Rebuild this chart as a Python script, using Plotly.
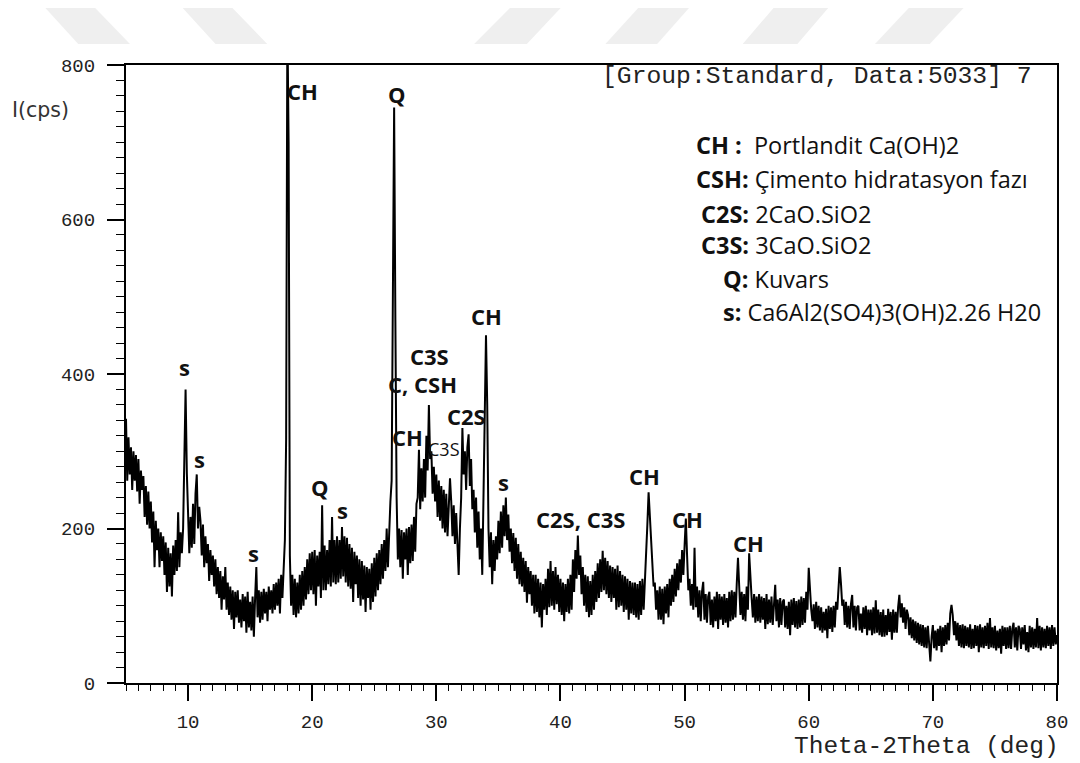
import plotly.graph_objects as go

# ---- XRD pattern: intensity (cps) sampled every 0.1 deg from 5 to 80 deg 2theta ----
two_theta_start = 5.0
two_theta_step = 0.1
intensity_rows = [
    [342, 262, 318, 270, 305, 250, 300, 262, 295, 248],   # 5
    [290, 232, 275, 250, 268, 215, 255, 205, 248, 200],   # 6
    [235, 182, 222, 150, 210, 172, 200, 150, 195, 158],   # 7
    [190, 140, 182, 118, 175, 125, 168, 112, 178, 140],   # 8
    [185, 145, 221, 150, 195, 168, 200, 300, 380, 272],   # 9
    [225, 168, 215, 175, 232, 180, 245, 270, 200, 228],   # 10
    [210, 165, 205, 150, 190, 155, 180, 132, 172, 140],   # 11
    [165, 125, 160, 115, 150, 110, 145, 95, 138, 108],    # 12
    [150, 95, 130, 88, 125, 82, 120, 70, 118, 85],        # 13
    [120, 78, 108, 72, 115, 80, 112, 65, 118, 72],        # 14
    [105, 68, 112, 60, 110, 150, 85, 120, 78, 118],       # 15
    [82, 122, 90, 118, 80, 125, 95, 120, 90, 128],        # 16
    [95, 130, 100, 135, 90, 140, 110, 150, 185, 315],     # 17
    [860, 700, 165, 100, 140, 88, 135, 85, 130, 90],      # 18
    [140, 95, 145, 100, 150, 108, 160, 115, 168, 120],    # 19
    [170, 115, 172, 100, 165, 125, 170, 110, 230, 120],   # 20
    [178, 120, 172, 128, 185, 125, 215, 130, 185, 128],   # 21
    [190, 130, 185, 135, 202, 138, 190, 130, 188, 125],   # 22
    [180, 122, 175, 105, 170, 128, 165, 110, 160, 100],   # 23
    [158, 108, 152, 92, 150, 110, 148, 95, 155, 105],     # 24
    [162, 112, 168, 120, 172, 128, 180, 135, 185, 145],   # 25
    [200, 150, 210, 235, 262, 450, 745, 470, 240, 160],   # 26
    [200, 150, 198, 135, 195, 160, 200, 140, 202, 155],   # 27
    [205, 158, 215, 170, 232, 240, 302, 225, 278, 235],   # 28
    [290, 240, 320, 275, 360, 290, 300, 245, 280, 235],   # 29
    [270, 215, 262, 210, 255, 200, 250, 195, 245, 190],   # 30
    [240, 265, 235, 190, 230, 180, 220, 170, 140, 200],   # 31
    [240, 330, 270, 300, 250, 305, 322, 255, 290, 225],   # 32
    [250, 195, 240, 175, 222, 160, 200, 140, 240, 382],   # 33
    [450, 360, 200, 150, 195, 128, 185, 145, 190, 160],   # 34
    [210, 168, 222, 175, 230, 190, 240, 185, 218, 170],   # 35
    [200, 155, 194, 145, 188, 135, 180, 128, 170, 125],   # 36
    [162, 118, 158, 104, 150, 115, 145, 100, 140, 90],    # 37
    [140, 92, 135, 85, 130, 72, 128, 95, 135, 88],        # 38
    [148, 98, 158, 100, 145, 95, 150, 102, 140, 92],      # 39
    [135, 88, 130, 80, 128, 92, 135, 90, 140, 95],        # 40
    [160, 118, 172, 135, 191, 140, 165, 115, 150, 100],   # 41
    [140, 92, 138, 85, 132, 88, 140, 95, 145, 105],       # 42
    [155, 110, 160, 118, 171, 120, 162, 115, 158, 110],   # 43
    [152, 105, 150, 110, 148, 95, 152, 98, 145, 100],     # 44
    [140, 92, 138, 95, 135, 82, 132, 90, 130, 88],        # 45
    [130, 85, 128, 82, 132, 88, 135, 95, 140, 170],       # 46
    [205, 247, 215, 178, 160, 125, 130, 95, 120, 82],     # 47
    [125, 82, 122, 76, 125, 90, 128, 85, 135, 100],       # 48
    [140, 105, 148, 112, 155, 120, 160, 130, 172, 140],   # 49
    [178, 213, 165, 120, 135, 100, 128, 95, 175, 98],     # 50
    [125, 85, 120, 80, 118, 131, 82, 115, 78, 112],       # 51
    [118, 75, 108, 72, 112, 80, 118, 70, 115, 82],        # 52
    [112, 75, 115, 78, 110, 72, 118, 80, 120, 82],        # 53
    [118, 85, 128, 162, 125, 88, 118, 82, 115, 80],       # 54
    [125, 95, 168, 130, 110, 85, 115, 78, 112, 80],       # 55
    [115, 78, 112, 82, 110, 70, 115, 76, 108, 78],        # 56
    [112, 75, 110, 127, 80, 108, 72, 110, 75, 105],       # 57
    [108, 72, 100, 70, 105, 62, 108, 75, 110, 72],        # 58
    [106, 70, 108, 72, 112, 75, 110, 78, 118, 95],        # 59
    [149, 120, 95, 80, 102, 70, 105, 72, 100, 68],        # 60
    [98, 65, 92, 68, 96, 58, 100, 70, 98, 66],            # 61
    [100, 72, 105, 95, 125, 150, 128, 100, 108, 75],      # 62
    [105, 72, 100, 70, 102, 114, 72, 100, 68, 98],        # 63
    [100, 68, 90, 65, 98, 70, 100, 62, 95, 68],           # 64
    [95, 62, 98, 64, 107, 65, 95, 62, 92, 60],            # 65
    [95, 60, 88, 62, 96, 66, 92, 56, 95, 65],             # 66
    [92, 65, 98, 114, 85, 103, 78, 98, 70, 95],           # 67
    [88, 62, 85, 58, 82, 55, 80, 52, 78, 50],             # 68
    [76, 48, 75, 46, 72, 45, 74, 48, 28, 60],             # 69
    [75, 45, 68, 42, 70, 48, 74, 40, 72, 48],             # 70
    [75, 50, 78, 55, 90, 101, 88, 62, 80, 55],            # 71
    [78, 48, 75, 46, 76, 45, 74, 48, 72, 46],             # 72
    [76, 44, 70, 45, 75, 48, 74, 40, 76, 46],             # 73
    [72, 45, 74, 48, 78, 44, 84, 46, 72, 45],             # 74
    [74, 42, 68, 45, 70, 38, 74, 48, 72, 44],             # 75
    [72, 45, 74, 44, 70, 78, 46, 72, 42, 74],             # 76
    [70, 44, 72, 50, 75, 42, 66, 40, 74, 46],             # 77
    [72, 44, 70, 46, 84, 45, 74, 42, 72, 46],             # 78
    [70, 45, 74, 48, 72, 44, 75, 48, 72, 50],             # 79
    [62],                                                 # 80
]
intensity = [v for row in intensity_rows for v in row]
two_theta = [round(two_theta_start + i * two_theta_step, 2) for i in range(len(intensity))]

# ---- phase labels placed above the peaks (2theta, cps) ----
peak_labels = ["CH", "Q", "s", "s", "s", "Q", "s", "C3S", "C, CSH", "CH",
               "C3S", "C2S", "CH", "s", "C2S, C3S", "CH", "CH", "CH"]
peak_label_x = [19.22, 26.85, 9.74, 10.94, 15.28, 20.66, 22.43, 29.42, 28.86, 27.65,
                30.62, 32.39, 34.08, 35.44, 41.63, 46.77, 50.22, 55.12]
peak_label_y = [766, 762, 409, 290, 168, 254, 224, 423, 387, 318,
                303, 346, 475, 260, 212, 268, 212, 181]
peak_label_bold = [True] * 10 + [False] + [True] * 7

# ---- phase key ----
key_codes = ["CH :", "CSH:", "C2S:", "C3S:", "Q:", "s:"]
key_names = ["\u00a0Portlandit Ca(OH)2", "Çimento hidratasyon fazı", "2CaO.SiO2",
             "3CaO.SiO2", "Kuvars", "Ca6Al2(SO4)3(OH)2.26 H20"]

header_text = "[Group:Standard, Data:5033] 7"
x_title = "Theta-2Theta (deg)"
y_title = "I(cps)"

W, H = 1080, 763
L, R, T, B = 126, 18, 65, 80
PW, PH = W - L - R, H - T - B


def paper_x(px):
    return (px - L) / PW


def paper_y(py):
    return (H - B - py) / PH


MONO = "Liberation Mono, Courier New, monospace"
SANS = "Open Sans, Lato, sans-serif"

fig = go.Figure()
fig.add_trace(go.Scatter(
    x=two_theta, y=intensity, mode="lines",
    line=dict(color="black", width=2),
    hoverinfo="skip", showlegend=False,
))

annotations = []
for txt, xv, yv, bold in zip(peak_labels, peak_label_x, peak_label_y, peak_label_bold):
    annotations.append(dict(
        x=xv, y=yv, xref="x", yref="y", showarrow=False,
        text=f"<b>{txt}</b>" if bold else txt,
        font=dict(family=SANS, size=22 if bold else 18, color="#111"),
        xanchor="center", yanchor="middle",
    ))

key_left = [697, 697, 702, 702, 724, 724]
key_y = [145, 179, 214, 245, 279, 312]
for code, name, kx, ky in zip(key_codes, key_names, key_left, key_y):
    annotations.append(dict(
        x=paper_x(kx), y=paper_y(ky), xref="paper", yref="paper", showarrow=False,
        text=f"<b>{code}</b> {name}", font=dict(family=SANS, size=23.5, color="#111"),
        xanchor="left", yanchor="middle",
    ))

annotations.append(dict(
    x=paper_x(603), y=paper_y(76), xref="paper", yref="paper", showarrow=False,
    text=header_text, font=dict(family=MONO, size=24.7, color="#222"),
    xanchor="left", yanchor="middle",
))
annotations.append(dict(
    x=paper_x(1066), y=paper_y(746), xref="paper", yref="paper", showarrow=False,
    text=x_title, font=dict(family=MONO, size=24.5, color="#222"),
    xanchor="right", yanchor="middle",
))
annotations.append(dict(
    x=paper_x(9), y=paper_y(110), xref="paper", yref="paper", showarrow=False,
    text=y_title, font=dict(family="DejaVu Sans, Verdana, sans-serif", size=20.5, color="#333"),
    xanchor="left", yanchor="middle",
))

# faint banner shapes along the top edge of the page
banner = [
    [(45, 8), (95, 8), (130, 44), (78, 44)],
    [(183, 8), (233, 8), (268, 44), (216, 44)],
    [(512, 8), (563, 8), (529, 44), (476, 44)],
    [(641, 8), (692, 8), (660, 44), (608, 44)],
    [(777, 8), (832, 8), (801, 44), (746, 44)],
    [(913, 8), (968, 8), (934, 44), (879, 44)],
]
shapes = []
for poly in banner:
    path = "M " + " L ".join(f"{paper_x(px):.5f},{paper_y(py):.5f}" for px, py in poly) + " Z"
    shapes.append(dict(type="path", path=path, xref="paper", yref="paper",
                       fillcolor="#efefef", line=dict(width=0), layer="below"))

fig.update_layout(
    width=W, height=H,
    margin=dict(l=L, r=R, t=T, b=B),
    paper_bgcolor="white", plot_bgcolor="white",
    annotations=annotations, shapes=shapes,
    xaxis=dict(
        range=[5, 80], tickmode="linear", tick0=0, dtick=10,
        ticks="outside", ticklen=16, tickwidth=1.5, tickcolor="black",
        minor=dict(dtick=1, ticks="outside", ticklen=6, tickwidth=1, tickcolor="black"),
        showline=True, linewidth=2, linecolor="black", mirror=True,
        showgrid=False, zeroline=False,
        tickfont=dict(family=MONO, size=19, color="#222"),
        ticklabelstandoff=4,
    ),
    yaxis=dict(
        range=[0, 800], tickmode="linear", tick0=0, dtick=200,
        ticks="outside", ticklen=17, tickwidth=1.5, tickcolor="black",
        minor=dict(dtick=20, ticks="outside", ticklen=8, tickwidth=1, tickcolor="black"),
        showline=True, linewidth=2, linecolor="black", mirror=True,
        showgrid=False, zeroline=False,
        tickfont=dict(family=MONO, size=19, color="#222"),
        ticklabelstandoff=8,
    ),
)

fig.write_html("out.html")
